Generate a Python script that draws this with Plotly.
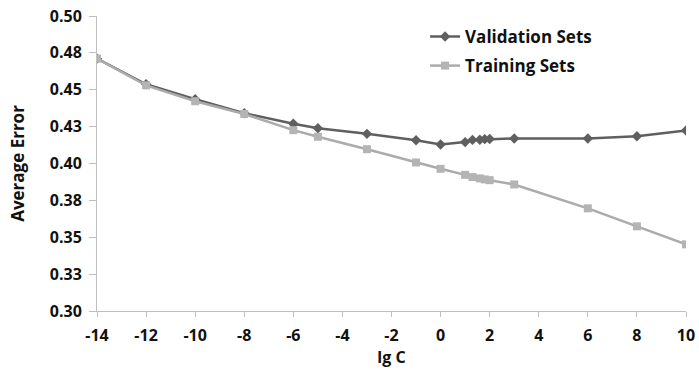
import plotly.graph_objects as go

# lg C values at which each model was evaluated
lg_c = [-14, -12, -10, -8, -6, -5, -3, -1, 0, 1, 1.3, 1.6, 1.8, 2, 3, 6, 8, 10]

validation_error = [0.4711, 0.4537, 0.4436, 0.4341, 0.4269, 0.4239, 0.4201, 0.4158,
                    0.4129, 0.4145, 0.4160, 0.4161, 0.4165, 0.4166, 0.4170, 0.4170,
                    0.4185, 0.4224]
training_error = [0.4711, 0.4530, 0.4422, 0.4336, 0.4226, 0.4181, 0.4097, 0.4007,
                  0.3964, 0.3923, 0.3908, 0.3899, 0.3892, 0.3887, 0.3858, 0.3696,
                  0.3574, 0.3452]

x_ticks = list(range(-14, 11, 2))
x_tick_labels = [str(v) for v in x_ticks]
y_ticks = [0.300, 0.325, 0.350, 0.375, 0.400, 0.425, 0.450, 0.475, 0.500]
y_tick_labels = ["0.30", "0.33", "0.35", "0.38", "0.40", "0.43", "0.45", "0.48", "0.50"]

font_family = "Open Sans, sans-serif"
text_color = "#111111"
axis_color = "#bfbfbf"

fig = go.Figure()
fig.add_trace(go.Scatter(
    x=lg_c, y=validation_error, name="<b>Validation Sets</b>", mode="lines+markers",
    line=dict(color="#5f5f5f", width=2.5),
    marker=dict(symbol="diamond", size=8, color="#5f5f5f"),
    legendgroup="v",
))
fig.add_trace(go.Scatter(
    x=lg_c, y=training_error, name="<b>Training Sets</b>", mode="lines+markers",
    line=dict(color="#ababab", width=2.5),
    marker=dict(symbol="square", size=8, color="#b4b4b4"),
    legendgroup="t",
))

axis_common = dict(
    showgrid=False, zeroline=False, showline=True, linecolor=axis_color, linewidth=1,
    ticks="outside", tickcolor=axis_color, automargin=False,
    tickfont=dict(family=font_family, size=16, color=text_color),
)

fig.update_layout(
    width=699, height=371,
    margin=dict(l=97, r=13, t=16, b=60),
    paper_bgcolor="white", plot_bgcolor="white",
    font=dict(family=font_family, color=text_color),
    xaxis=dict(range=[-14, 10], tickvals=x_ticks,
               ticktext=[f"<b>{t}</b>" for t in x_tick_labels], ticklen=5,
               ticklabelstandoff=5,
               title=dict(text="<b>lg C</b>", font=dict(size=16), standoff=3),
               **axis_common),
    # inner half of the crossing x ticks
    xaxis2=dict(overlaying="x", matches="x", range=[-14, 10], tickvals=x_ticks,
                showticklabels=False, ticks="inside", ticklen=6, tickcolor=axis_color,
                showline=False, showgrid=False, zeroline=False, automargin=False),
    yaxis=dict(range=[0.30, 0.50], tickvals=y_ticks,
               ticktext=[f"<b>{t}</b>" for t in y_tick_labels], ticklen=7,
               ticklabelstandoff=4,
               title=dict(text="<b>Average Error</b>", font=dict(size=17), standoff=20),
               **axis_common),
    legend=dict(x=0.557, y=0.99, xanchor="left", yanchor="top",
                traceorder="grouped", tracegroupgap=4,
                font=dict(size=17, family=font_family, color=text_color),
                bgcolor="rgba(0,0,0,0)", itemwidth=30),
    showlegend=True,
)

fig.write_html("out.html")
